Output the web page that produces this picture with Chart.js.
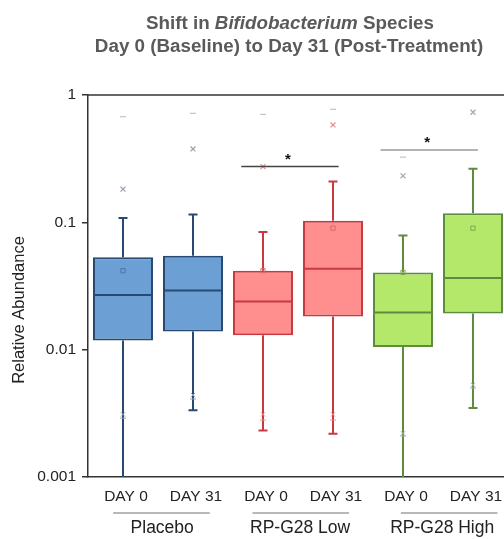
<!DOCTYPE html>
<html>
<head>
<meta charset="utf-8">
<script src="https://cdn.jsdelivr.net/npm/chart.js@4"></script>
<style>
html,body{margin:0;padding:0;background:#fff;overflow:hidden;}
#wrap{width:504px;height:539px;}
</style>
</head>
<body>
<div id="wrap"><canvas id="c" width="504" height="539"></canvas></div>
<script>
// ---- data ----
const categories = ['DAY 0','DAY 31','DAY 0','DAY 31','DAY 0','DAY 31'];
const groups = ['Placebo','RP-G28 Low','RP-G28 High'];
const q1 = [0.0118, 0.0139, 0.0130, 0.0182, 0.0105, 0.0192];
const median = [0.0269, 0.0292, 0.0239, 0.0432, 0.0196, 0.0365];
const q3 = [0.0533, 0.0546, 0.0417, 0.1027, 0.0404, 0.118];
const whiskerHigh = [0.108, 0.115, 0.0838, 0.209, 0.0788, 0.263];
const whiskerLow = [0.0007, 0.00334, 0.00232, 0.00219, 0.0007, 0.00349];
const means = [0.0417, null, 0.0417, 0.090, 0.0404, 0.090];
const highX = [0.182, 0.377, 0.274, 0.582, 0.232, 0.732];
const highDash = [0.676, 0.718, 0.705, 0.772, 0.325, null];
const lowX = [0.0031, 0.0044, 0.0031, 0.0031, 0.0022, 0.0053];
const lowDash = [0.0029, 0.0041, 0.0028, 0.0028, 0.0021, 0.0050];
const yTicks = [1, 0.1, 0.01, 0.001];
const yTickLabels = ['1', '0.1', '0.01', '0.001'];
const sigFrom = [1.69, 3.68];
const sigTo = [3.08, 5.07];
const sigLevel = [0.274, 0.37];
const sigMark = ['*', '*'];

// ---- styles ----
const fillColors = ['#6c9fd3','#6c9fd3','#ff8f8f','#ff8f8f','#b4e86a','#b4e86a'];
const lineColors = ['#284a72','#284a72','#c83a40','#c83a40','#5e8c3e','#5e8c3e'];
const meanColors = ['#4a78a8','#4a78a8','#d86a6a','#d86a6a','#7aa84e','#7aa84e'];
const xColors = ['#9aa0b0','#9aa0b0','#e09090','#e09090','#a8a8a8','#a8a8a8'];
const sigColors = ['#444','#9a9a9a'];
const FONT = '"Liberation Sans", Arial, Helvetica, sans-serif';

const pts = (arr) => arr.map((v,i)=> v==null?null:{x:i,y:v}).filter(p=>p);
const ptsColors = (arr, cols) => arr.map((v,i)=> v==null?null:cols[i]).filter(c=>c);

const extras = {
  id:'extras',
  beforeDatasetsDraw(chart){
    const {ctx, chartArea:a, scales:{x,y}} = chart;
    ctx.save();
    ctx.beginPath(); ctx.rect(a.left, a.top, a.right-a.left, a.bottom-a.top); ctx.clip();
    ctx.lineWidth = 2;
    for(let i=0;i<categories.length;i++){
      const px = x.getPixelForValue(i);
      ctx.strokeStyle = lineColors[i];
      const yt = y.getPixelForValue(whiskerHigh[i]);
      const yb = y.getPixelForValue(whiskerLow[i]);
      ctx.beginPath();
      ctx.moveTo(px, y.getPixelForValue(q3[i])); ctx.lineTo(px, yt);
      ctx.moveTo(px-4.5, yt); ctx.lineTo(px+4.5, yt);
      ctx.moveTo(px, y.getPixelForValue(q1[i])); ctx.lineTo(px, yb);
      ctx.moveTo(px-4.5, yb); ctx.lineTo(px+4.5, yb);
      ctx.stroke();
    }
    ctx.restore();
  },
  afterDatasetDraw(chart, args){
    if(args.index!==0) return;
    const {ctx, scales:{y}} = chart;
    const meta = chart.getDatasetMeta(0);
    ctx.save();
    ctx.lineWidth = 2;
    meta.data.forEach((el,i)=>{
      const py = y.getPixelForValue(median[i]);
      ctx.strokeStyle = lineColors[i];
      ctx.beginPath();
      ctx.moveTo(el.x - el.width/2, py); ctx.lineTo(el.x + el.width/2, py);
      ctx.stroke();
    });
    ctx.restore();
  },
  afterDraw(chart){
    const {ctx, chartArea:a, scales:{x,y}} = chart;
    ctx.save();
    // top frame line
    ctx.strokeStyle = '#333'; ctx.lineWidth = 1.5;
    ctx.beginPath(); ctx.moveTo(a.left, a.top); ctx.lineTo(a.right, a.top); ctx.stroke();
    // significance brackets
    for(let k=0;k<sigFrom.length;k++){
      const py = y.getPixelForValue(sigLevel[k]);
      const x0 = x.getPixelForValue(sigFrom[k]), x1 = x.getPixelForValue(sigTo[k]);
      ctx.strokeStyle = sigColors[k]; ctx.lineWidth = 1.5;
      ctx.beginPath(); ctx.moveTo(x0, py); ctx.lineTo(x1, py); ctx.stroke();
      ctx.fillStyle = '#111';
      ctx.font = 'bold 15px ' + FONT;
      ctx.textAlign = 'center'; ctx.textBaseline = 'alphabetic';
      ctx.fillText(sigMark[k], (x0+x1)/2 - 2, py - 3);
    }
    // x category labels
    ctx.fillStyle = '#222';
    ctx.font = '15.5px ' + FONT;
    ctx.textAlign = 'center'; ctx.textBaseline = 'middle';
    categories.forEach((c,i)=>{ ctx.fillText(c, x.getPixelForValue(i) + (i%2 ? 3 : 3), 497); });
    // group labels
    const groupCenters = [0.56, 2.53, 4.56];
    const lineCenters = [0.55, 2.54, 4.66];
    ctx.strokeStyle = '#a0a0a0'; ctx.lineWidth = 1.5;
    ctx.font = '17.5px ' + FONT;
    groups.forEach((g,k)=>{
      const l0 = x.getPixelForValue(lineCenters[k]-0.69), l1 = x.getPixelForValue(lineCenters[k]+0.69);
      ctx.beginPath(); ctx.moveTo(l0, 513); ctx.lineTo(l1, 513); ctx.stroke();
      ctx.fillText(g, x.getPixelForValue(groupCenters[k]), 528);
    });
    // y axis title
    ctx.save();
    ctx.translate(19, 310); ctx.rotate(-Math.PI/2);
    ctx.font = '16.5px ' + FONT; ctx.fillStyle = '#222';
    ctx.fillText('Relative Abundance', 0, 0);
    ctx.restore();
    // title
    ctx.fillStyle = '#5a5a5a';
    ctx.textBaseline = 'alphabetic'; ctx.textAlign = 'left';
    const segs = [['bold','Shift in '],['italic bold','Bifidobacterium'],['bold',' Species']];
    const fs = 18.8;
    let w = 0;
    segs.forEach(s=>{ ctx.font = s[0]+' '+fs+'px '+FONT; w += ctx.measureText(s[1]).width; });
    let cx = 290 - w/2;
    segs.forEach(s=>{ ctx.font = s[0]+' '+fs+'px '+FONT; ctx.fillText(s[1], cx, 29); cx += ctx.measureText(s[1]).width; });
    ctx.font = 'bold '+fs+'px '+FONT; ctx.textAlign = 'center';
    ctx.fillText('Day 0 (Baseline) to Day 31 (Post-Treatment)', 289, 52);
    ctx.restore();
  }
};

new Chart(document.getElementById('c'), {
  type:'bar',
  data:{
    datasets:[
      { type:'bar', data: categories.map((c,i)=>({x:i, y:[q1[i], q3[i]]})),
        backgroundColor: fillColors, borderColor: lineColors, borderWidth: 2, borderSkipped:false,
        barPercentage: 0.857, categoryPercentage: 1, order: 5 },
      { type:'scatter', data: pts(means), pointStyle:'rect', pointRadius:3, borderWidth:1,
        backgroundColor:'rgba(0,0,0,0)', borderColor: ptsColors(means, meanColors), order: 1 },
      { type:'scatter', data: pts(highX), pointStyle:'crossRot', pointRadius:3.5, borderWidth:1.2,
        borderColor: ptsColors(highX, xColors), order: 1 },
      { type:'scatter', data: pts(highDash), pointStyle:'line', pointRadius:3, borderWidth:1.2,
        borderColor: '#c4c4c4', order: 1 },
      { type:'scatter', data: pts(lowX), pointStyle:'crossRot', pointRadius:3, borderWidth:1,
        borderColor: ptsColors(lowX, xColors), order: 1 },
      { type:'scatter', data: pts(lowDash), pointStyle:'line', pointRadius:3, borderWidth:1,
        borderColor: ptsColors(lowDash, xColors), order: 1 }
    ]
  },
  options:{
    responsive:false, animation:false,
    layout:{autoPadding:false, padding:{top:95, left:0, right:0, bottom:0}},
    plugins:{legend:{display:false}, tooltip:{enabled:false}, title:{display:false}},
    scales:{
      x:{ type:'linear', min:-0.5, max:5.443, offset:false,
        grid:{display:false, offset:false},
        border:{display:true, color:'#333', width:1.5},
        afterBuildTicks(s){ s.ticks = categories.map((c,i)=>({value:i})); },
        afterFit(s){ s.height = 62; },
        ticks:{ display:false }
      },
      y:{ type:'logarithmic', min:0.001, max:1,
        grid:{drawOnChartArea:false, drawTicks:true, tickLength:6, color:'#333', lineWidth:1.5},
        border:{display:true, color:'#333', width:1.5},
        afterBuildTicks(s){ s.ticks = yTicks.map(v=>({value:v})); },
        afterFit(s){ s.width = 88; },
        ticks:{ padding:6, color:'#222', font:{family:FONT, size:15.5},
          callback:(v)=>{ const k = yTicks.indexOf(v); return k>=0 ? yTickLabels[k] : ''; } }
      }
    }
  },
  plugins:[extras]
});
</script>
</body>
</html>
